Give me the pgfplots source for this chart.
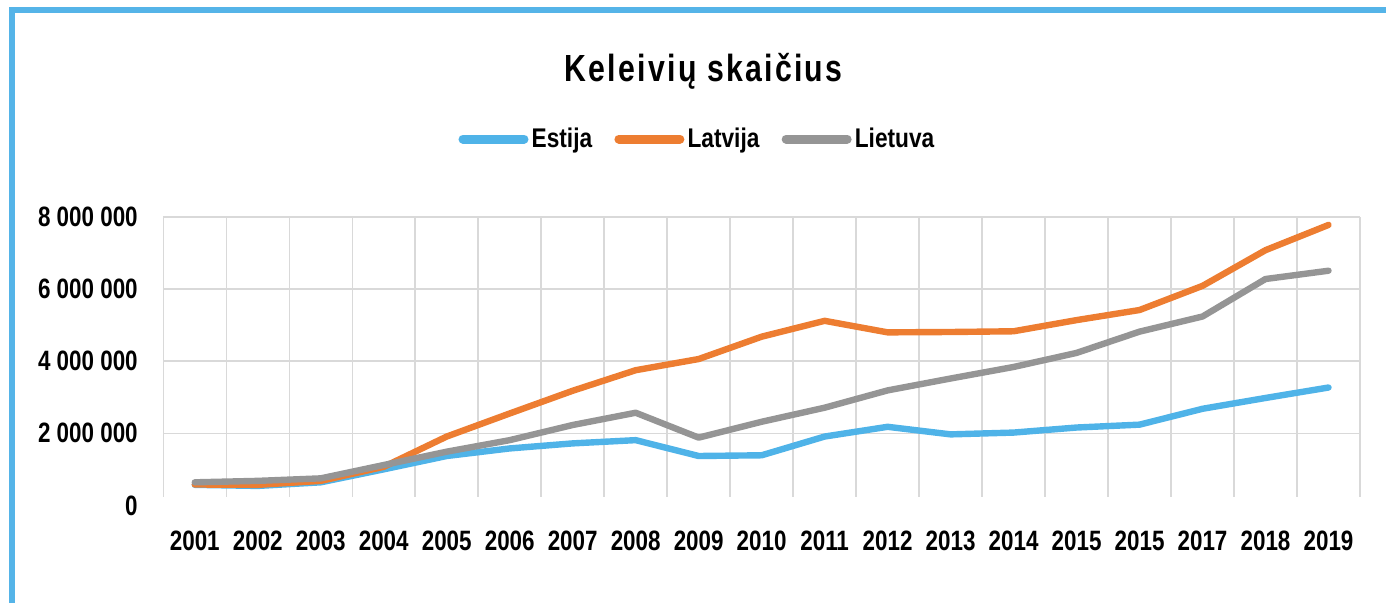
\documentclass[border=0pt]{standalone}
\usepackage{fontspec}
\setmainfont{Liberation Sans}[FakeStretch=0.8]
\newfontfamily\titlefont{Liberation Sans}[FakeStretch=0.8, LetterSpace=6]
\newfontfamily\legfont{Liberation Sans}[FakeStretch=0.84]
\usepackage{pgfplots}
\pgfplotsset{compat=1.18}
\definecolor{cEst}{HTML}{4FB3E8}
\definecolor{cLat}{HTML}{ED7D31}
\definecolor{cLie}{HTML}{959595}
\definecolor{cBorder}{HTML}{55B4E8}
\definecolor{cGrid}{HTML}{D9D9D9}
\begin{document}
\begin{tikzpicture}
\useasboundingbox (0,0) rectangle (693pt,301.5pt);
\draw[cBorder, line width=2.85pt] (6pt,-5pt) -- (6pt,296.65pt) -- (700pt,296.65pt);
\node[anchor=base, inner sep=0pt] at (351.8pt,260.65pt) {\titlefont\bfseries\fontsize{18.9}{22}\selectfont Keleivių skaičius};
\begin{axis}[
  at={(81.65pt,48.8pt)}, anchor=south west,
  width=598.35pt, height=144.2pt, scale only axis,
  xmin=-0.5, xmax=18.5, ymin=0, ymax=8000000,
  axis line style={draw=none},
  major tick length=0pt,
  xtick={0,...,18},
  xticklabels={2001,2002,2003,2004,2005,2006,2007,2008,2009,2010,2011,2012,2013,2014,2015,2015,2017,2018,2019},
  ytick={2000000,4000000,6000000,8000000},
  yticklabels={2 000 000,4 000 000,6 000 000,8 000 000},
  extra y ticks={0}, extra y tick labels={0},
  extra y tick style={grid=none},
  ymajorgrids, major grid style={cGrid, line width=0.75pt},
  scaled y ticks=false,
  tick label style={font=\fontsize{14}{16}\selectfont\bfseries, inner sep=0pt},
  yticklabel style={anchor=east, xshift=-12.6pt},
  xticklabel style={anchor=north, yshift=-12.4pt},
  legend columns=3,
  legend style={draw=none, fill=none, at={(0.4468,1.2705)}, anchor=center,
    font=\legfont\fontsize{13.5}{16}\selectfont\bfseries,
    /tikz/every even column/.append style={column sep=9.5pt},
    nodes={inner sep=1.6pt}},
  legend image code/.code={\draw[#1, line width=4.5pt, line cap=round] (2.25pt,0pt) -- (32.75pt,0pt);},
  every axis plot/.append style={line width=3.2pt, line join=round, line cap=round},
  clip=false,
]
\pgfplotsinvokeforeach{-0.5,0.5,...,18.5}{
  \draw[cGrid, line width=0.75pt] (axis cs:#1,240000) -- (axis cs:#1,8000000);
}
\addplot[cEst] coordinates {(0,570000)(1,540000)(2,640000)(3,1000000)(4,1370000)(5,1580000)(6,1720000)(7,1810000)(8,1370000)(9,1390000)(10,1910000)(11,2180000)(12,1970000)(13,2020000)(14,2160000)(15,2240000)(16,2680000)(17,2980000)(18,3270000)};
\addlegendentry{Estija}
\addplot[cLat] coordinates {(0,580000)(1,570000)(2,680000)(3,1070000)(4,1910000)(5,2550000)(6,3180000)(7,3750000)(8,4060000)(9,4680000)(10,5120000)(11,4800000)(12,4810000)(13,4830000)(14,5140000)(15,5420000)(16,6090000)(17,7080000)(18,7780000)};
\addlegendentry{Latvija}
\addplot[cLie] coordinates {(0,640000)(1,680000)(2,750000)(3,1120000)(4,1490000)(5,1810000)(6,2230000)(7,2570000)(8,1880000)(9,2320000)(10,2710000)(11,3190000)(12,3520000)(13,3840000)(14,4230000)(15,4820000)(16,5240000)(17,6280000)(18,6510000)};
\addlegendentry{Lietuva}
\end{axis}
\end{tikzpicture}
\end{document}
